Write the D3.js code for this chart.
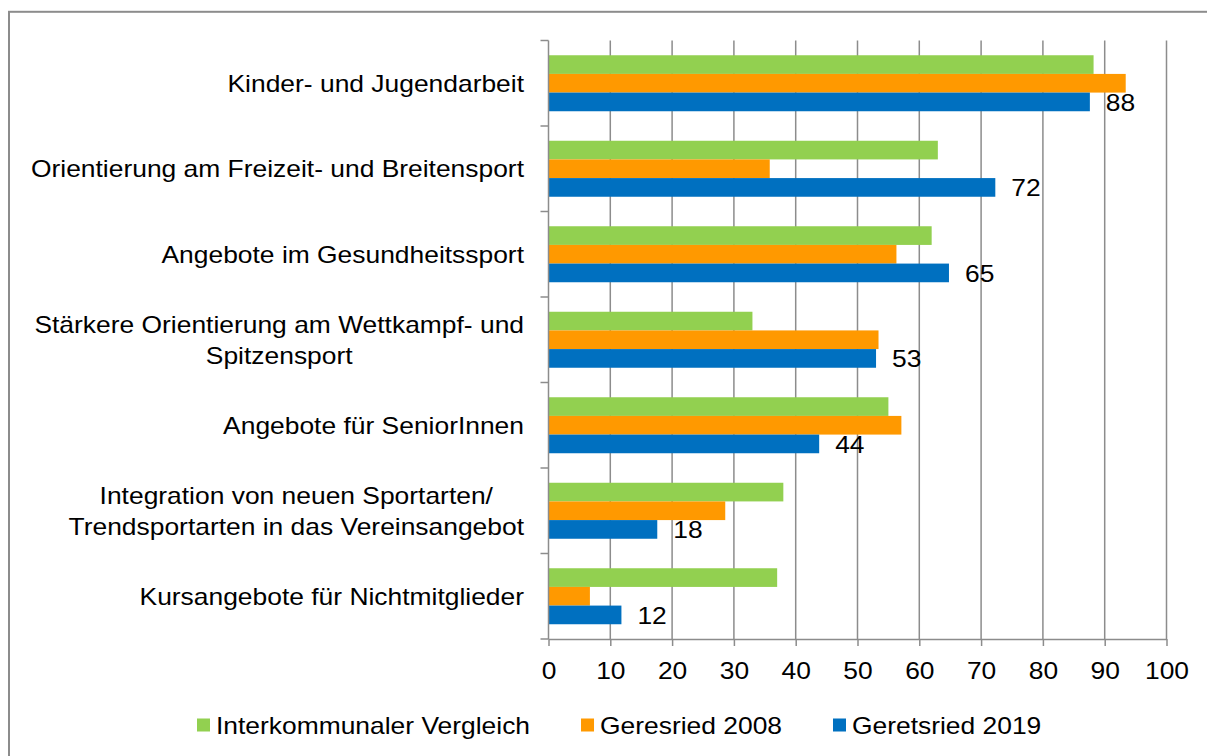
<!DOCTYPE html>
<html>
<head>
<meta charset="utf-8">
<script src="https://cdn.jsdelivr.net/npm/d3@7"></script>
<style>
    body { margin: 0; background: #fff; }
    svg { display: block; font-family: "Liberation Sans", Arial, sans-serif; }
</style>
</head>
<body>
<svg id="chart" width="1207" height="756"></svg>
<script>
// data
var categories = [
    ["Kinder- und Jugendarbeit"],
    ["Orientierung am Freizeit- und Breitensport"],
    ["Angebote im Gesundheitssport"],
    ["Stärkere Orientierung am Wettkampf- und", "Spitzensport"],
    ["Angebote für SeniorInnen"],
    ["Integration von neuen Sportarten/", "Trendsportarten in das Vereinsangebot"],
    ["Kursangebote für Nichtmitglieder"]
];
var seriesNames = ["Interkommunaler Vergleich", "Geresried 2008", "Geretsried 2019"];
var seriesColors = ["#92d050", "#ff9900", "#0070c0"];
var valuesInterkommunal = [88.2, 63, 62, 33, 55, 38, 37];
var values2008 = [93.4, 35.8, 56.3, 53.4, 57.1, 28.6, 6.7];
var values2019 = [87.6, 72.3, 64.8, 53, 43.8, 17.6, 11.8];
var labels2019 = ["88", "72", "65", "53", "44", "18", "12"];
var xTicks = [0, 10, 20, 30, 40, 50, 60, 70, 80, 90, 100];

var allSeries = [valuesInterkommunal, values2008, values2019];

var svg = d3.select("#chart"),
    width = +svg.attr("width"),
    height = +svg.attr("height");

var axisColor = "#8c8c8c";
var fontSize = 24;
var hStretch = 1.1;   // text in the picture is a bit wider than plain Arial

// make text a bit wider
function stretch(sel) {
    sel.each(function () {
        var w = this.getComputedTextLength();
        this.setAttribute("textLength", w * hStretch);
        this.setAttribute("lengthAdjust", "spacingAndGlyphs");
    });
}

// frame
svg.append("rect")
    .attr("x", 9)
    .attr("y", 11.8)
    .attr("width", width + 20)
    .attr("height", height + 20)
    .attr("fill", "none")
    .attr("stroke", axisColor)
    .attr("stroke-width", 2);

var x = d3.scaleLinear().domain([0, 100]).range([548.5, 1166.5]);

var y = d3.scaleBand()
    .domain(d3.range(categories.length))
    .range([40.5, 639])
    .paddingInner(0.345)
    .paddingOuter(0.1725);

var ySub = d3.scaleBand()
    .domain(d3.range(seriesNames.length))
    .range([0, y.bandwidth()]);

// gridlines
svg.append("g")
    .selectAll("line")
    .data(xTicks.slice(1))
    .enter().append("line")
    .attr("x1", function (d) { return x(d); })
    .attr("x2", function (d) { return x(d); })
    .attr("y1", y.range()[0])
    .attr("y2", y.range()[1])
    .attr("stroke", axisColor)
    .attr("stroke-width", 1.5);

// bars
var groups = svg.append("g")
    .selectAll("g")
    .data(categories)
    .enter().append("g")
    .attr("transform", function (d, i) { return "translate(0," + y(i) + ")"; });

groups.selectAll("rect")
    .data(function (d, i) {
        return allSeries.map(function (s, j) { return {s: j, v: s[i]}; });
    })
    .enter().append("rect")
    .attr("x", x(0))
    .attr("y", function (d) { return ySub(d.s); })
    .attr("width", function (d) { return x(d.v) - x(0); })
    .attr("height", ySub.bandwidth())
    .attr("fill", function (d) { return seriesColors[d.s]; });

// value labels on the 2019 bars
groups.append("text")
    .attr("x", function (d, i) { return x(values2019[i]) + 16; })
    .attr("y", ySub(2) + ySub.bandwidth() / 2)
    .attr("dy", "0.36em")
    .style("font-size", fontSize + "px")
    .attr("fill", "#000")
    .text(function (d, i) { return labels2019[i]; })
    .call(stretch);

// bottom axis
var xAxis = svg.append("g")
    .attr("transform", "translate(0," + y.range()[1] + ")")
    .call(d3.axisBottom(x).tickValues(xTicks).tickSize(7).tickPadding(16).tickSizeOuter(0));
xAxis.select(".domain").attr("stroke", axisColor).attr("stroke-width", 1.5);
xAxis.selectAll(".tick line").attr("stroke", axisColor).attr("stroke-width", 1.5);
xAxis.selectAll(".tick text")
    .attr("fill", "#000")
    .style("font-size", fontSize + "px")
    .style("font-family", "'Liberation Sans', Arial, sans-serif")
    .call(stretch);

// left axis
svg.append("line")
    .attr("x1", x(0)).attr("x2", x(0))
    .attr("y1", y.range()[0]).attr("y2", y.range()[1])
    .attr("stroke", axisColor)
    .attr("stroke-width", 1.5);

svg.append("g")
    .selectAll("line")
    .data(d3.range(categories.length + 1))
    .enter().append("line")
    .attr("x1", x(0) - 8)
    .attr("x2", x(0))
    .attr("y1", function (i) { return y.range()[0] + i * y.step(); })
    .attr("y2", function (i) { return y.range()[0] + i * y.step(); })
    .attr("stroke", axisColor)
    .attr("stroke-width", 1.5);

// category labels, lines centred inside a right aligned block
var labelRight = 524;
var lineGap = 31;
categories.forEach(function (lines, i) {
    var cy = y(i) + y.bandwidth() / 2;
    var g = svg.append("g");
    var texts = g.selectAll("text")
        .data(lines)
        .enter().append("text")
        .attr("y", function (d, k) { return cy + (k - (lines.length - 1) / 2) * lineGap; })
        .attr("dy", "0.36em")
        .attr("text-anchor", "middle")
        .style("font-size", fontSize + "px")
        .attr("fill", "#000")
        .text(function (d) { return d; })
        .call(stretch);
    var maxW = 0;
    texts.each(function () { maxW = Math.max(maxW, +this.getAttribute("textLength")); });
    texts.attr("x", labelRight - maxW / 2);
});

// legend
var legendX = 197;
var legendY = 725;
var legend = svg.append("g");
seriesNames.forEach(function (name, i) {
    legend.append("rect")
        .attr("x", legendX)
        .attr("y", legendY - 6.5)
        .attr("width", 13)
        .attr("height", 13)
        .attr("fill", seriesColors[i]);
    var t = legend.append("text")
        .attr("x", legendX + 19)
        .attr("y", legendY)
        .attr("dy", "0.36em")
        .style("font-size", fontSize + "px")
        .attr("fill", "#000")
        .text(name)
        .call(stretch);
    legendX += 19 + (+t.attr("textLength")) + 51;
});
</script>
</body>
</html>
